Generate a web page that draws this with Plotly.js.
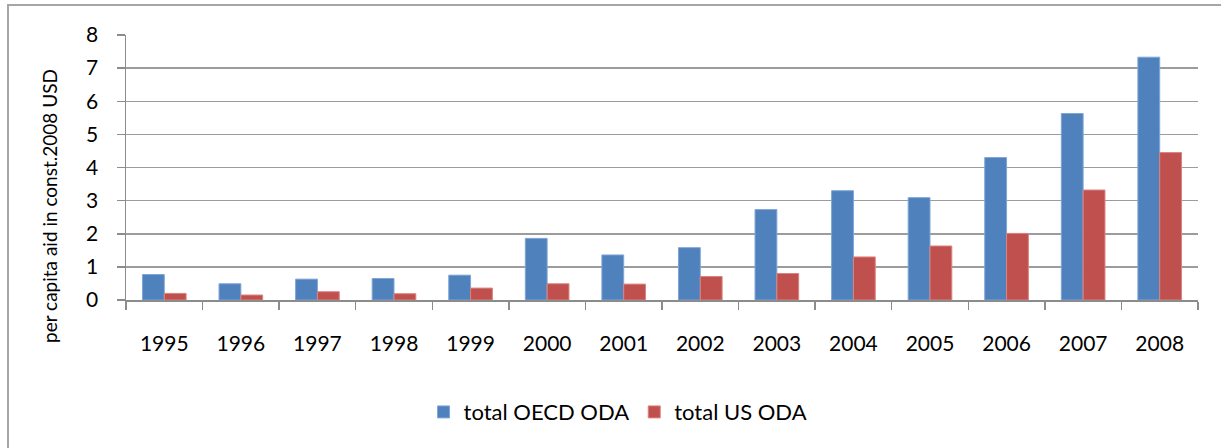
<!DOCTYPE html>
<html><head><meta charset="utf-8">
<script src="https://cdn.plot.ly/plotly-3.0.1.min.js"></script>
<style>
html,body{margin:0;padding:0;background:#fff;}
#wrap{position:relative;width:1221px;height:448px;overflow:hidden;}
#chart{position:absolute;left:0;top:0;width:1221px;height:448px;}
#frame{position:absolute;left:7px;top:4px;width:1300px;height:500px;border:2px solid #a6a6a6;pointer-events:none;}
</style></head>
<body><div id="wrap"><div id="chart"></div><div id="frame"></div></div>
<script>
const years = ['1995','1996','1997','1998','1999','2000','2001','2002','2003','2004','2005','2006','2007','2008'];
const oecdODA = [0.77,0.49,0.63,0.65,0.75,1.86,1.36,1.58,2.73,3.30,3.09,4.30,5.63,7.33];
const usODA   = [0.20,0.15,0.25,0.19,0.36,0.49,0.48,0.71,0.80,1.30,1.63,2.01,3.32,4.45];
const seriesNames = ['total OECD ODA','total US ODA'];
const yTitle = 'per capita aid in const.2008 USD';

const fontFam = 'Lato, Carlito, "Open Sans", sans-serif';
const traces = [
  {type:'bar', x:years, y:oecdODA, name:seriesNames[0],
   marker:{color:'#4F81BD', line:{color:'#7FA6D6', width:1}}},
  {type:'bar', x:years, y:usODA, name:seriesNames[1],
   marker:{color:'#C0504D', line:{color:'#D98480', width:1}}}
];
const layout = {
  width:1221, height:448,
  margin:{l:126, r:23, t:35, b:148},
  paper_bgcolor:'#fff', plot_bgcolor:'#fff',
  barmode:'group', bargap:0.43, bargroupgap:0,
  font:{family:fontFam, size:20, color:'#000'},
  xaxis:{type:'category', showline:true, linecolor:'#8c8c8c', linewidth:1.5,
         ticks:'outside', tickson:'boundaries', ticklen:8, tickcolor:'#8c8c8c', tickwidth:1.5,
         ticklabelstandoff:24, tickfont:{size:21, family:fontFam}, showgrid:false},
  yaxis:{range:[0,8], dtick:1, showline:true, linecolor:'#8c8c8c', linewidth:1.5,
         ticks:'outside', ticklen:8, tickcolor:'#8c8c8c', tickwidth:1.5,
         ticklabelstandoff:14,
         gridcolor:'#9c9c9c', gridwidth:1.5, zeroline:false,
         tickfont:{size:21, family:fontFam}},
  showlegend:true,
  legend:{orientation:'h', x:0.459, xanchor:'center', y:-0.423, yanchor:'middle',
          font:{size:22, family:fontFam}, itemwidth:30, traceorder:'normal'},
  annotations:[{text:yTitle, textangle:-90, xref:'paper', yref:'paper',
     x:(49-126)/1072, y:(300-206)/265, xanchor:'center', yanchor:'middle',
     showarrow:false, font:{size:19, family:fontFam, color:'#000'}}]
};
Plotly.newPlot('chart', traces, layout, {displayModeBar:false, staticPlot:true});
</script></body></html>
